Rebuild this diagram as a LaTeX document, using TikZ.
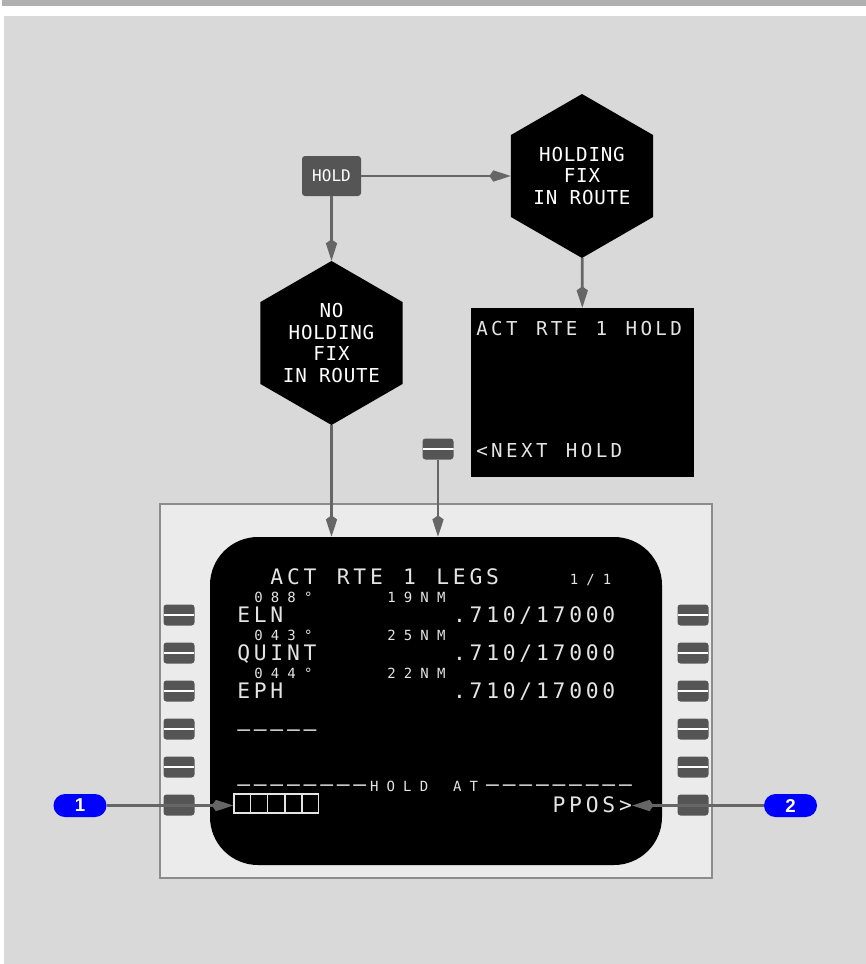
\documentclass[tikz,border=0pt]{standalone}
\usepackage{fontspec}
\setmainfont{Liberation Sans}
\newfontfamily\keyfont{DejaVu Sans Mono}
\newfontfamily\hexfont{DejaVu Sans Mono}[LetterSpace=4]
\newfontfamily\crtfont{DejaVu Sans Mono}[LetterSpace=17.6]
\newfontfamily\crtsmall{DejaVu Sans Mono}[LetterSpace=58.4]
\usetikzlibrary{arrows.meta,positioning,calc,shapes.geometric}
\definecolor{panel}{HTML}{D9D9D9}
\definecolor{topbar}{HTML}{B0B0B0}
\definecolor{bezel}{HTML}{EBEBEB}
\definecolor{rim}{HTML}{8C8C8C}
\definecolor{keygray}{HTML}{555555}
\definecolor{wiregray}{HTML}{666666}
\definecolor{crt}{HTML}{E4E4E4}
\definecolor{callout}{HTML}{0000FF}
\newcommand{\blank}{\hspace{0.953em}}

\begin{document}
\begin{tikzpicture}[x=0.75pt,y=-0.75pt,>={Kite[length=16pt,width=8.5pt,inset=3pt]},
  hexa/.style={regular polygon,regular polygon sides=6,shape border rotate=30,fill=black,inner sep=0pt,minimum size=123pt},
  hextxt/.style={text=white,align=center,inner sep=0pt,font=\hexfont\fontsize{14.4}{16.1}\selectfont},
  lsplain/.style={fill=keygray,rounded corners=2.25pt,minimum width=23.25pt,minimum height=15.75pt,inner sep=0pt},
  lskey/.style={lsplain,path picture={\draw[white,line width=1.5pt] (path picture bounding box.west)--(path picture bounding box.east);}},
  big/.style={anchor=base west,inner sep=0pt,text=crt,font=\crtfont\fontsize{16}{16}\selectfont},
  boxfont/.style={big,font=\crtfont\fontsize{14.4}{14.4}\selectfont},
  small/.style={anchor=base west,inner sep=0pt,text=crt,font=\crtsmall\fontsize{10.5}{10.5}\selectfont},
  link/.style={draw=wiregray,line width=2pt,->},
  pill/.style={fill=callout,rounded corners=8.6pt,minimum width=39.75pt,minimum height=17.25pt,inner sep=0pt,text=white,font=\bfseries\fontsize{14}{14}\selectfont}]
\path[use as bounding box] (0,0) rectangle (866,964);
\fill[topbar] (2,0) rectangle (866,6);
\fill[panel] (4,16) rectangle (866,964);

\node[fill=keygray,rounded corners=2.25pt,minimum width=44.25pt,minimum height=30pt,inner sep=0pt,text=white,font=\keyfont\fontsize{12}{12}\selectfont] (hold) at (331.5,176) {HOLD};
\node[hexa] (fix) at (582,176) {};\node[hextxt] (fixtxt) at (fix) {HOLDING\\FIX\\IN ROUTE};
\node[hexa] (nofix) at (331.5,343) {};\node[hextxt] (nofixtxt) at (nofix) {NO\\HOLDING\\FIX\\IN ROUTE};
\node[fill=black,minimum width=167.25pt,minimum height=126.75pt,inner sep=0pt] (page) at (582.5,392.5) {};
\node[boxfont] (pagettl) at (476,335) {ACT\blank RTE\blank 1\blank HOLD};
\node[boxfont] (nexthold) at (476,457) {<NEXT\blank HOLD};
\node[lskey] (lsk) at (438,449) {};

\node[draw=rim,line width=1.5pt,fill=bezel,minimum width=414pt,minimum height=280.5pt,inner sep=0pt] (cdu) at (436,691) {};
\node[fill=black,rounded corners=36pt,minimum width=339pt,minimum height=246pt,inner sep=0pt] (screen) at (436,701) {};
\foreach \r/\y in {1/615,2/653,3/691,4/729,5/767}{\node[lskey] (kl\r) at (179,\y) {};\node[lskey] (kr\r) at (693,\y) {};}
\node[lsplain] (kl6) at (179,805) {};\node[lsplain] (kr6) at (693,805) {};

\node[big] (ttl) at (270.2,584) {ACT\blank RTE\blank 1\blank LEGS};\node[small] (pg) at (569.5,584) {1/1};
\node[small] (crs1) at (254,602) {088°};\node[small] (dst1) at (387,602) {19NM};
\node[big] (wpt1) at (237,622) {ELN};\node[big] (spd1) at (452.8,622) {.710/17000};
\node[small] (crs2) at (254,640) {043°};\node[small] (dst2) at (387,640) {25NM};
\node[big] (wpt2) at (237,660) {QUINT};\node[big] (spd2) at (452.8,660) {.710/17000};
\node[small] (crs3) at (254,678) {044°};\node[small] (dst3) at (387,678) {22NM};
\node[big] (wpt3) at (237,698) {EPH};\node[big] (spd3) at (452.8,698) {.710/17000};
\node[big] (wpt4) at (237,736) {–––––};
\node[big] (holdat) at (237,791) {––––––––\hspace{2.8pt}{\crtsmall\fontsize{10.5}{10.5}\selectfont HOLD\hspace{18.6pt}AT}\hspace{6.1pt}–––––––––};
\node[draw=crt,line width=1.1pt,minimum width=63.5pt,minimum height=14.25pt,inner sep=0pt] (entry) at (276.3,803.5) {};
\foreach \k in {1,...,4}{\draw[crt,line width=1.1pt] ($(entry.north west)!\k/5!(entry.north east)$) -- ($(entry.south west)!\k/5!(entry.south east)$);}
\node[big] (ppos) at (552.4,812) {PPOS>};

\node[pill] (c1) at (80,805.5) {1};\node[pill] (c2) at (790.5,805.5) {2};

\draw[link] (hold) -- (fix);
\draw[link] (hold) -- (nofix);
\draw[link] (fix) -- (page);
\draw[link] (nofix) -- (nofix |- screen.north);
\draw[link] (lsk) -- (lsk |- screen.north);
\draw[link] (c1) -- (c1 -| entry.west);
\draw[link] (c2) -- (c2 -| ppos.east);
\end{tikzpicture}
\end{document}
